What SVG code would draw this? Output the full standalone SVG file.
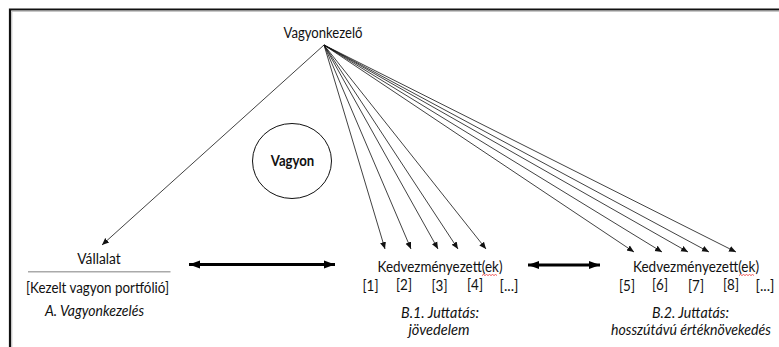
<svg xmlns="http://www.w3.org/2000/svg" width="779" height="347" viewBox="0 0 779 347">
<style>
text{font-family:Lato,"Open Sans","Liberation Sans",sans-serif;font-size:14.5px;fill:#111;text-anchor:middle}
.b{font-weight:bold}
.i{font-style:italic}
.c{stroke:#111;stroke-width:0.8;fill:none}
.d{stroke:#000;stroke-width:3;fill:none}
</style>
<defs>
<marker id="ah" markerUnits="userSpaceOnUse" markerWidth="8" markerHeight="8" viewBox="0 0 8 8" refX="7" refY="4" orient="auto">
<path d="M0,1 L7,4 L0,7 Z" fill="#111"/>
</marker>
<marker id="bh" markerUnits="userSpaceOnUse" markerWidth="12" markerHeight="10" viewBox="0 0 12 10" refX="11" refY="5" orient="auto-start-reverse">
<path d="M0,1 L11,5 L0,9 Z" fill="#000"/>
</marker>
</defs>
<rect width="779" height="347" fill="#fff"/>
<g id="frame">
<path d="M10,347 V9.5 H779" stroke="#111" stroke-width="2.2" fill="none"/>
<path d="M11.8,347 V11.3 H779" stroke="#bbb" stroke-width="1" fill="none"/>
</g>
<g id="connectors">
<line class="c" x1="324" y1="45" x2="102" y2="245" marker-end="url(#ah)"/>
<line class="c" x1="324" y1="45" x2="385" y2="249" marker-end="url(#ah)"/>
<line class="c" x1="324" y1="45" x2="411" y2="249" marker-end="url(#ah)"/>
<line class="c" x1="324" y1="45" x2="438" y2="249" marker-end="url(#ah)"/>
<line class="c" x1="324" y1="45" x2="458" y2="249" marker-end="url(#ah)"/>
<line class="c" x1="324" y1="45" x2="486" y2="249" marker-end="url(#ah)"/>
<line class="c" x1="324" y1="45" x2="634" y2="252" marker-end="url(#ah)"/>
<line class="c" x1="324" y1="45" x2="662" y2="252" marker-end="url(#ah)"/>
<line class="c" x1="324" y1="45" x2="688" y2="252" marker-end="url(#ah)"/>
<line class="c" x1="324" y1="45" x2="709" y2="252" marker-end="url(#ah)"/>
<line class="c" x1="324" y1="45" x2="736" y2="252" marker-end="url(#ah)"/>
<line class="d" x1="189" y1="264.5" x2="335" y2="264.5" marker-start="url(#bh)" marker-end="url(#bh)"/>
<line class="d" x1="528" y1="265" x2="600" y2="265" marker-start="url(#bh)" marker-end="url(#bh)"/>
</g>
<g id="vagyonkezelo">
<text x="323" y="38" textLength="79" lengthAdjust="spacingAndGlyphs">Vagyonkezelő</text>
</g>
<g id="vagyon">
<ellipse cx="292" cy="161" rx="39.5" ry="37.5" fill="none" stroke="#111" stroke-width="1"/>
<text class="b" x="292.5" y="165.5" textLength="43.5" lengthAdjust="spacingAndGlyphs">Vagyon</text>
</g>
<g id="vallalat">
<text x="99" y="263.5" textLength="43.5" lengthAdjust="spacingAndGlyphs">Vállalat</text>
<line x1="28" y1="271.7" x2="170.5" y2="271.7" stroke="#aaa" stroke-width="1.5"/>
<text x="97.5" y="292.5" textLength="143" lengthAdjust="spacingAndGlyphs">[Kezelt vagyon portfólió]</text>
<text class="i" x="94.5" y="316" textLength="99" lengthAdjust="spacingAndGlyphs">A. Vagyonkezelés</text>
</g>
<g id="kedv1">
<text x="440" y="271.5" textLength="125" lengthAdjust="spacingAndGlyphs">Kedvezményezett(ek)</text>
<path d="M482,275.5 l1.5,-1 l1.5,1 l1.5,-1 l1.5,1 l1.5,-1 l1.5,1 l1.5,-1 l1.5,1 l1.5,-1 l1.5,1" stroke="#e33" stroke-width="0.8" fill="none"/>
<text x="370.5" y="291" textLength="16" lengthAdjust="spacingAndGlyphs">[1]</text>
<text x="404" y="289.5" textLength="16" lengthAdjust="spacingAndGlyphs">[2]</text>
<text x="439.5" y="291" textLength="16" lengthAdjust="spacingAndGlyphs">[3]</text>
<text x="475" y="289.5" textLength="16" lengthAdjust="spacingAndGlyphs">[4]</text>
<text x="509" y="291" textLength="19" lengthAdjust="spacingAndGlyphs">[...]</text>
<text class="i" x="440" y="318" textLength="78" lengthAdjust="spacingAndGlyphs">B.1. Juttatás:</text>
<text class="i" x="439" y="334.5" textLength="61" lengthAdjust="spacingAndGlyphs">jövedelem</text>
</g>
<g id="kedv2">
<text x="696" y="271.5" textLength="126" lengthAdjust="spacingAndGlyphs">Kedvezményezett(ek)</text>
<path d="M739,275.5 l1.5,-1 l1.5,1 l1.5,-1 l1.5,1 l1.5,-1 l1.5,1 l1.5,-1 l1.5,1 l1.5,-1 l1.5,1" stroke="#e33" stroke-width="0.8" fill="none"/>
<text x="627" y="291" textLength="16" lengthAdjust="spacingAndGlyphs">[5]</text>
<text x="660" y="289.5" textLength="16" lengthAdjust="spacingAndGlyphs">[6]</text>
<text x="696" y="291" textLength="16" lengthAdjust="spacingAndGlyphs">[7]</text>
<text x="731" y="289.5" textLength="16" lengthAdjust="spacingAndGlyphs">[8]</text>
<text x="765" y="291" textLength="19" lengthAdjust="spacingAndGlyphs">[...]</text>
<text class="i" x="690.5" y="318" textLength="77" lengthAdjust="spacingAndGlyphs">B.2. Juttatás:</text>
<text class="i" x="691" y="334.5" textLength="160" lengthAdjust="spacingAndGlyphs">hosszútávú értéknövekedés</text>
</g>
</svg>
